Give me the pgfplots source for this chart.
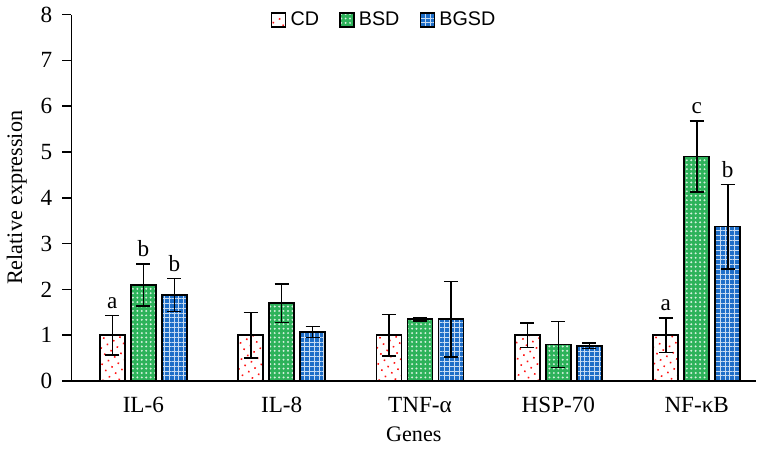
\documentclass[border=0pt]{standalone}
\usepackage{pgfplots}
\pgfplotsset{compat=1.18}
\usepackage{fontspec}
\setmainfont{Liberation Serif}
\newfontfamily\legfont{Liberation Sans}
\usetikzlibrary{patterns.meta}

\definecolor{cdred}{RGB}{255,20,20}
\definecolor{bsdgreen}{RGB}{45,178,90}
\definecolor{bgsdblue}{RGB}{30,110,200}

\begin{document}
\begin{tikzpicture}
\begin{axis}[
    scale only axis,
    width=340pt, height=182pt,
    xmin=-0.52, xmax=4.43,
    ymin=0, ymax=8,
    ytick={0,1,...,8},
    xtick={0,1,2,3,4},
    xticklabels={IL-6, IL-8, TNF-α, HSP-70, NF-κB},
    axis x line*=bottom,
    axis y line*=left,
    axis line style={line width=0.8pt},
    tick align=outside,
    ytick style={line width=0.8pt, black},
    major tick length=4.5pt,
    xtick style={draw=none},
    /pgf/number format/assume math mode=true,
    tick label style={font=\fontsize{11.5}{13}\selectfont},
    yticklabel style={xshift=-1.5pt},
    label style={font=\fontsize{11}{13}\selectfont},
    ylabel={Relative expression},
    xlabel={Genes},
    legend style={at={(0.458,0.985)}, anchor=center, draw=none,
        font=\legfont\fontsize{9.8}{11}\selectfont, legend columns=3,
        /tikz/every even column/.append style={column sep=8pt}},
    legend image code/.code={\draw[#1, line width=0.8pt] (0pt,-3.5pt) rectangle (7pt,3.5pt);},
    error bars/y dir=both, error bars/y explicit,
    error bars/error bar style={line width=0.8pt, black},
    error bars/error mark options={rotate=90, mark size=3.5pt, line width=0.8pt, black},
]

% CD
\addplot[ybar, bar width=0.18, bar shift=0, draw=black, line width=0.8pt, fill=white,
    postaction={pattern={Dots[distance=3.6pt, radius=0.55pt, angle=30]}, pattern color=cdred}]
    coordinates {(-0.224,1.0) +- (0,0.43) (0.776,1.0) +- (0,0.50) (1.776,1.0) +- (0,0.45)
                 (2.776,1.0) +- (0,0.27) (3.776,1.0) +- (0,0.38)};
% BSD
\addplot[ybar, bar width=0.18, bar shift=0, draw=black, line width=0.8pt, fill=bsdgreen,
    postaction={pattern={Dots[distance=2.2pt, radius=0.55pt]}, pattern color=white!80!bsdgreen}]
    coordinates {(0,2.10) +- (0,0.46) (1,1.70) +- (0,0.42) (2,1.35) +- (0,0.04)
                 (3,0.80) +- (0,0.50) (4,4.90) +- (0,0.77)};
% BGSD
\addplot[ybar, bar width=0.18, bar shift=0, draw=black, line width=0.8pt, fill=bgsdblue,
    postaction={pattern={Hatch[distance=2.4pt, line width=0.45pt]}, pattern color=white!75!bgsdblue}]
    coordinates {(0.224,1.88) +- (0,0.36) (1.224,1.07) +- (0,0.12) (2.224,1.35) +- (0,0.82)
                 (3.224,0.77) +- (0,0.06) (4.224,3.37) +- (0,0.92)};

% significance letters, set above the error bars
\addplot[draw=none, mark=none, forget plot, nodes near coords, point meta=explicit symbolic,
    nodes near coords style={anchor=south, font=\fontsize{11.5}{13}\selectfont}]
    coordinates {(-0.224,1.43)[a] (0,2.56)[b] (0.224,2.24)[b]
                 (3.776,1.38)[a] (4,5.67)[c] (4.224,4.29)[b]};

\legend{CD, BSD, BGSD}
\end{axis}
\end{tikzpicture}
\end{document}
